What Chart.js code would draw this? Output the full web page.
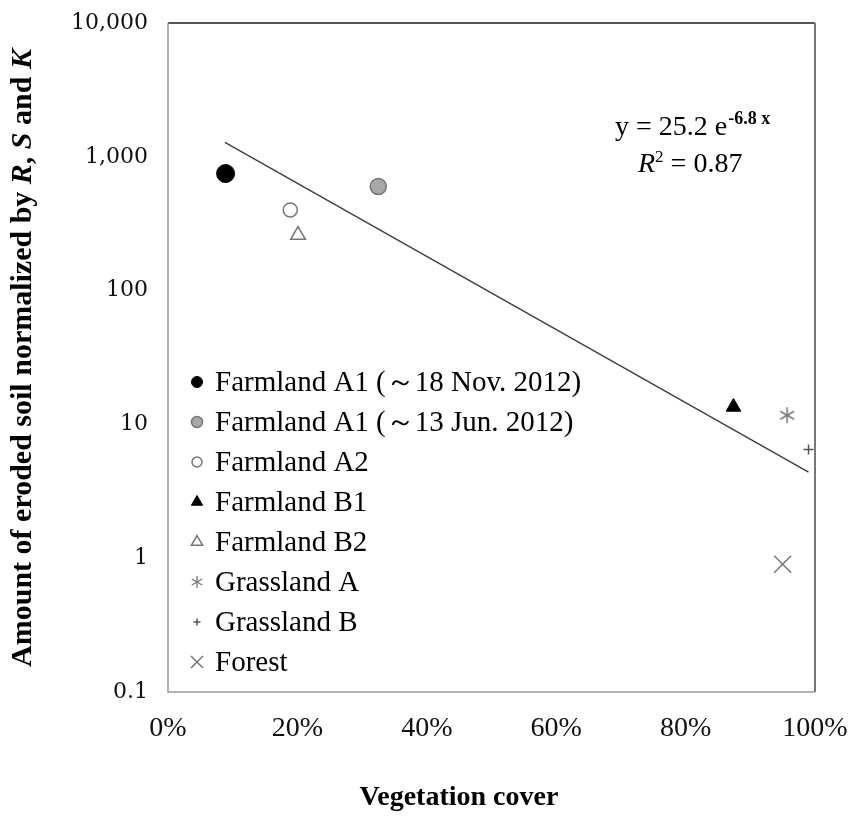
<!DOCTYPE html>
<html>
<head>
<meta charset="utf-8">
<script src="https://cdn.jsdelivr.net/npm/chart.js@4"></script>
<style>
html, body { margin: 0; padding: 0; background: #fff; }
</style>
</head>
<body>
<canvas id="soilChart" width="851" height="816"></canvas>
<script>
// values
const seriesNames = [
    'Farmland A1 (\uFF5E18 Nov. 2012)',
    'Farmland A1 (\uFF5E13 Jun. 2012)',
    'Farmland A2',
    'Farmland B1',
    'Farmland B2',
    'Grassland A',
    'Grassland B',
    'Forest'
];
const coverValues = [0.089, 0.325, 0.189, 0.874, 0.201, 0.957, 0.990, 0.950];
const soilValues = [750, 600, 400, 13.5, 260, 11.7, 6.5, 0.9];

const trendCover = [0.088, 0.99];
const trendSoil = [1280, 4.4];

const xTicks = [0, 0.2, 0.4, 0.6, 0.8, 1.0];
const xTickLabels = ['0%', '20%', '40%', '60%', '80%', '100%'];
const yTicks = [0.1, 1, 10, 100, 1000, 10000];
const yTickLabels = ['0.1', '1', '10', '100', '1,000', '10,000'];

const serif = "'Liberation Serif', 'Times New Roman', serif";

function asterisk(size, color, lw) {
    const c = document.createElement('canvas');
    c.width = size;
    c.height = size;
    const g = c.getContext('2d');
    g.strokeStyle = color;
    g.lineWidth = lw;
    const m = size / 2;
    const r = m - 1;
    for (let k = 0; k < 3; k++) {
        const a = Math.PI / 2 + k * Math.PI / 3;
        g.beginPath();
        g.moveTo(m + r * Math.cos(a), m + r * Math.sin(a));
        g.lineTo(m - r * Math.cos(a), m - r * Math.sin(a));
        g.stroke();
    }
    return c;
}

// marker look for each series: plot size and legend size
const markers = [
    { style: 'circle', r: 9, lr: 5.5, fill: '#000', line: '#000', w: 1 },
    { style: 'circle', r: 8, lr: 5.5, fill: '#a8a8a8', line: '#777', w: 1.5 },
    { style: 'circle', r: 7, lr: 5, fill: '#fff', line: '#777', w: 1.5 },
    { style: 'triangle', r: 8.5, lr: 6.5, fill: '#000', line: '#000', w: 1 },
    { style: 'triangle', r: 8.5, lr: 6.5, fill: '#fff', line: '#777', w: 1.5 },
    { style: asterisk(18, '#777', 1.5), lstyle: asterisk(14, '#777', 1.3), r: 9, lr: 7, fill: '#777', line: '#777', w: 1.5 },
    { style: 'cross', r: 5, lr: 3.5, fill: '#555', line: '#555', w: 1.5 },
    { style: 'crossRot', r: 12, lr: 8.5, fill: '#777', line: '#777', w: 1.5 }
];

const pointSets = seriesNames.map((name, i) => ({
    label: name,
    data: [{ x: coverValues[i], y: soilValues[i] }],
    pointStyle: markers[i].style,
    pointRadius: markers[i].r,
    pointBackgroundColor: markers[i].fill,
    pointBorderColor: markers[i].line,
    pointBorderWidth: markers[i].w
}));

const trendSet = {
    label: 'trend',
    data: trendCover.map((x, i) => ({ x: x, y: trendSoil[i] })),
    showLine: true,
    borderColor: '#404040',
    borderWidth: 1.5,
    pointRadius: 0
};

const decor = {
    id: 'decor',
    afterDraw(chart) {
        const ctx = chart.ctx;
        const a = chart.chartArea;
        ctx.save();

        // frame
        ctx.lineWidth = 2;
        ctx.strokeStyle = '#555';
        ctx.beginPath(); ctx.moveTo(a.left, a.top); ctx.lineTo(a.right, a.top); ctx.stroke();
        ctx.strokeStyle = '#777';
        ctx.beginPath(); ctx.moveTo(a.right, a.top); ctx.lineTo(a.right, a.bottom); ctx.stroke();
        ctx.lineWidth = 1.5;
        ctx.strokeStyle = '#999';
        ctx.beginPath(); ctx.moveTo(a.left, a.top); ctx.lineTo(a.left, a.bottom); ctx.lineTo(a.right, a.bottom); ctx.stroke();

        // legend
        ctx.font = '29px ' + serif;
        ctx.fillStyle = '#000';
        ctx.textBaseline = 'middle';
        ctx.textAlign = 'left';
        seriesNames.forEach((name, i) => {
            const y = 382 + i * 40;
            const m = markers[i];
            ctx.fillStyle = m.fill;
            ctx.strokeStyle = m.line;
            ctx.lineWidth = m.w;
            Chart.helpers.drawPoint(ctx, { pointStyle: m.lstyle || m.style, radius: m.lr, rotation: 0, borderWidth: m.w }, 197, y);
            ctx.fillStyle = '#000';
            ctx.fillText(name, 215, y + 1);
        });

        // equation
        ctx.textBaseline = 'alphabetic';
        let x = 615;
        ctx.font = '28px ' + serif;
        ctx.fillText('y = 25.2 e', x, 135);
        x += ctx.measureText('y = 25.2 e').width + 1;
        ctx.font = 'bold 18px ' + serif;
        ctx.fillText('-6.8 x', x, 124);
        x = 638;
        ctx.font = 'italic 28px ' + serif;
        ctx.fillText('R', x, 172);
        x += ctx.measureText('R').width;
        ctx.font = '17px ' + serif;
        ctx.fillText('2', x, 162);
        x += ctx.measureText('2').width;
        ctx.font = '28px ' + serif;
        ctx.fillText(' = 0.87', x, 172);

        // x title
        ctx.font = 'bold 28px ' + serif;
        ctx.textAlign = 'center';
        ctx.textBaseline = 'middle';
        ctx.fillText('Vegetation cover', 459, 798);

        // y title
        const parts = [
            ['Amount of eroded soil normalized by ', false],
            ['R', true], [', ', false], ['S', true], [' and ', false], ['K', true]
        ];
        ctx.translate(23, 358);
        ctx.rotate(-Math.PI / 2);
        ctx.textAlign = 'left';
        let total = 0;
        parts.forEach(p => {
            ctx.font = (p[1] ? 'italic ' : '') + 'bold 30px ' + serif;
            total += ctx.measureText(p[0]).width;
        });
        let px = -total / 2;
        parts.forEach(p => {
            ctx.font = (p[1] ? 'italic ' : '') + 'bold 30px ' + serif;
            ctx.fillText(p[0], px, 0);
            px += ctx.measureText(p[0]).width;
        });
        ctx.restore();
    }
};

const ctx = document.getElementById('soilChart').getContext('2d');
window.soilChart = new Chart(ctx, {
    type: 'scatter',
    data: { datasets: pointSets.concat([trendSet]) },
    options: {
        responsive: false,
        animation: false,
        layout: { padding: { top: 23, right: 36, left: 0, bottom: 0 } },
        plugins: { legend: { display: false }, tooltip: { enabled: false } },
        scales: {
            x: {
                type: 'linear',
                min: 0,
                max: 1,
                grid: { display: false, drawTicks: true, tickLength: 20, tickColor: 'transparent' },
                border: { display: false },
                afterBuildTicks: s => { s.ticks = xTicks.map(v => ({ value: v })); },
                afterFit: s => { s.height = 124; },
                ticks: {
                    padding: 0,
                    color: '#111',
                    font: { family: serif, size: 28 },
                    callback: (v, i) => xTickLabels[i]
                }
            },
            y: {
                type: 'logarithmic',
                min: 0.1,
                max: 10000,
                grid: { display: false, drawTicks: true, tickLength: 20, tickColor: 'transparent' },
                border: { display: false },
                afterBuildTicks: s => { s.ticks = yTicks.map(v => ({ value: v })); },
                afterFit: s => { s.width = 168; },
                ticks: {
                    padding: 0,
                    color: '#111',
                    font: { family: "'DejaVu Serif', serif", size: 22 },
                    callback: (v, i) => yTickLabels[i]
                }
            }
        }
    },
    plugins: [decor]
});
</script>
</body>
</html>
